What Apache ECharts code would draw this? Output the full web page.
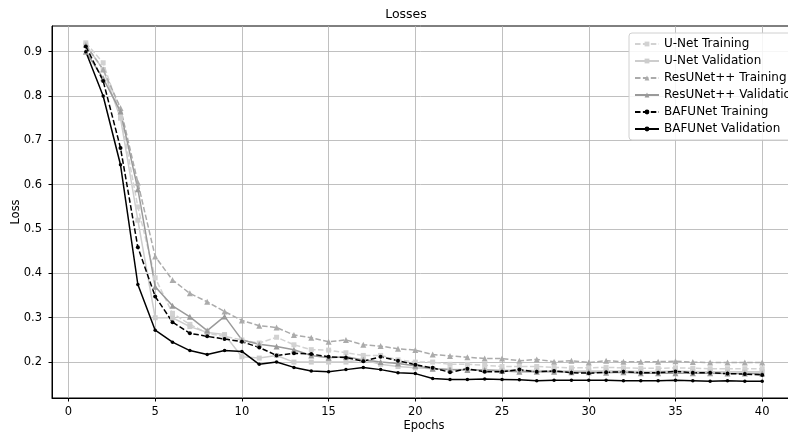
<!DOCTYPE html>
<html>
<head>
<meta charset="utf-8">
<script src="https://cdn.jsdelivr.net/npm/echarts@6/dist/echarts.min.js"></script>
<style>
  html, body { margin: 0; padding: 0; background: #fff; }
  #main { width: 788px; height: 432px; }
</style>
</head>
<body>
<div id="main"></div>
<script>
// epochs 1..40
const epochs = [1,2,3,4,5,6,7,8,9,10,11,12,13,14,15,16,17,18,19,20,21,22,23,24,25,26,27,28,29,30,31,32,33,34,35,36,37,38,39,40];
const xTicks = [0, 5, 10, 15, 20, 25, 30, 35, 40];
const yTicks = [0.2, 0.3, 0.4, 0.5, 0.6, 0.7, 0.8, 0.9];

const unetTrain = [0.92, 0.875, 0.76, 0.55, 0.39, 0.31, 0.285, 0.265, 0.258, 0.25, 0.243, 0.256, 0.239, 0.228, 0.227, 0.221, 0.215, 0.215, 0.205, 0.2, 0.2, 0.195, 0.195, 0.193, 0.19, 0.19, 0.19, 0.188, 0.187, 0.187, 0.188, 0.187, 0.186, 0.186, 0.187, 0.186, 0.185, 0.185, 0.185, 0.185];
const unetVal = [0.915, 0.86, 0.75, 0.52, 0.30, 0.30, 0.28, 0.267, 0.262, 0.212, 0.209, 0.215, 0.2, 0.2, 0.2, 0.2, 0.205, 0.195, 0.19, 0.187, 0.185, 0.183, 0.183, 0.182, 0.182, 0.181, 0.181, 0.18, 0.18, 0.18, 0.18, 0.18, 0.179, 0.179, 0.18, 0.179, 0.178, 0.178, 0.178, 0.178];
const resTrain = [0.915, 0.86, 0.773, 0.605, 0.438, 0.385, 0.355, 0.336, 0.314, 0.294, 0.282, 0.278, 0.261, 0.255, 0.246, 0.25, 0.239, 0.236, 0.23, 0.227, 0.217, 0.214, 0.211, 0.208, 0.208, 0.203, 0.206, 0.201, 0.203, 0.199, 0.203, 0.201, 0.201, 0.201, 0.202, 0.2, 0.199, 0.199, 0.199, 0.199];
const resVal = [0.90, 0.84, 0.765, 0.59, 0.37, 0.327, 0.302, 0.271, 0.303, 0.25, 0.24, 0.235, 0.228, 0.215, 0.21, 0.212, 0.205, 0.2, 0.197, 0.192, 0.185, 0.183, 0.182, 0.182, 0.18, 0.178, 0.178, 0.178, 0.177, 0.177, 0.176, 0.177, 0.175, 0.175, 0.175, 0.175, 0.175, 0.174, 0.174, 0.174];
const bafTrain = [0.912, 0.834, 0.683, 0.459, 0.348, 0.29, 0.265, 0.258, 0.252, 0.246, 0.233, 0.215, 0.22, 0.218, 0.212, 0.21, 0.202, 0.212, 0.203, 0.194, 0.187, 0.177, 0.185, 0.178, 0.178, 0.183, 0.178, 0.18, 0.176, 0.175, 0.177, 0.178, 0.176, 0.176, 0.179, 0.176, 0.176, 0.174, 0.173, 0.171];
const bafVal = [0.90, 0.80, 0.645, 0.375, 0.272, 0.245, 0.226, 0.217, 0.226, 0.224, 0.195, 0.2, 0.188, 0.18, 0.178, 0.183, 0.188, 0.183, 0.176, 0.174, 0.163, 0.161, 0.161, 0.162, 0.161, 0.16, 0.158, 0.159, 0.159, 0.159, 0.159, 0.158, 0.158, 0.158, 0.159, 0.158, 0.157, 0.158, 0.157, 0.157];

const font = 'DejaVu Sans';
const dash = [5.5, 2.4];

function mk(name, vals, color, dashed, symbol, size) {
  return {
    name: name,
    type: 'line',
    data: epochs.map((e, i) => [e, vals[i]]),
    symbol: symbol,
    symbolSize: size,
    showSymbol: true,
    lineStyle: { color: color, width: 1.5, type: dashed ? dash : 'solid' },
    itemStyle: { color: color },
    animation: false
  };
}

const chart = echarts.init(document.getElementById('main'));
chart.setOption({
  backgroundColor: '#fff',
  animation: false,
  title: {
    text: 'Losses', left: 401, top: 3, textAlign: 'center',
    textStyle: { fontFamily: font, fontSize: 12.5, fontWeight: 'normal', color: '#000' }
  },
  grid: {
    left: 52, right: -8, top: 26, bottom: 34,
    outerBoundsMode: 'none', containLabel: false,
    show: true, borderColor: '#000', borderWidth: 1
  },
  legend: {
    orient: 'vertical', left: 629, top: 33,
    itemWidth: 24, itemHeight: 6, itemGap: 5,
    padding: [5, 30, 5, 5],
    backgroundColor: 'rgba(255,255,255,0.85)',
    borderColor: '#d0d0d0', borderWidth: 1, borderRadius: 3,
    textStyle: { fontFamily: font, fontSize: 12, color: '#000' },
    data: ['U-Net Training', 'U-Net Validation', 'ResUNet++ Training', 'ResUNet++ Validation', 'BAFUNet Training', 'BAFUNet Validation']
  },
  xAxis: {
    type: 'value', min: -0.95, max: 41.95,
    name: 'Epochs', nameLocation: 'middle', nameGap: 22, nameMoveOverlap: false,
    nameTextStyle: { fontFamily: font, fontSize: 11.5, color: '#000' },
    axisLine: { show: true, onZero: false, lineStyle: { color: '#000' } },
    axisTick: { show: true, customValues: xTicks, length: 3.5, lineStyle: { color: '#000' } },
    axisLabel: { customValues: xTicks, fontFamily: font, fontSize: 11.5, color: '#000', margin: 8 },
    splitLine: { show: true, lineStyle: { color: '#b0b0b0', width: 0.8 } }
  },
  yAxis: {
    type: 'value', min: 0.119, max: 0.958,
    name: 'Loss', nameLocation: 'middle', nameGap: 30, nameRotate: 90, nameMoveOverlap: false,
    nameTextStyle: { fontFamily: font, fontSize: 11.5, color: '#000' },
    axisLine: { show: true, onZero: false, lineStyle: { color: '#000' } },
    axisTick: { show: true, customValues: yTicks, length: 3.5, lineStyle: { color: '#000' } },
    axisLabel: { customValues: yTicks, fontFamily: font, fontSize: 11.5, color: '#000', margin: 10, formatter: v => v.toFixed(1) },
    splitLine: { show: true, lineStyle: { color: '#b0b0b0', width: 0.8 } }
  },
  series: [
    mk('U-Net Training', unetTrain, '#d2d2d2', true, 'rect', 5),
    mk('U-Net Validation', unetVal, '#cdcdcd', false, 'rect', 5),
    mk('ResUNet++ Training', resTrain, '#ababab', true, 'triangle', 6),
    mk('ResUNet++ Validation', resVal, '#9a9a9a', false, 'triangle', 6),
    mk('BAFUNet Training', bafTrain, '#000', true, 'circle', 4),
    mk('BAFUNet Validation', bafVal, '#000', false, 'circle', 3.5)
  ]
});
</script>
</body>
</html>
